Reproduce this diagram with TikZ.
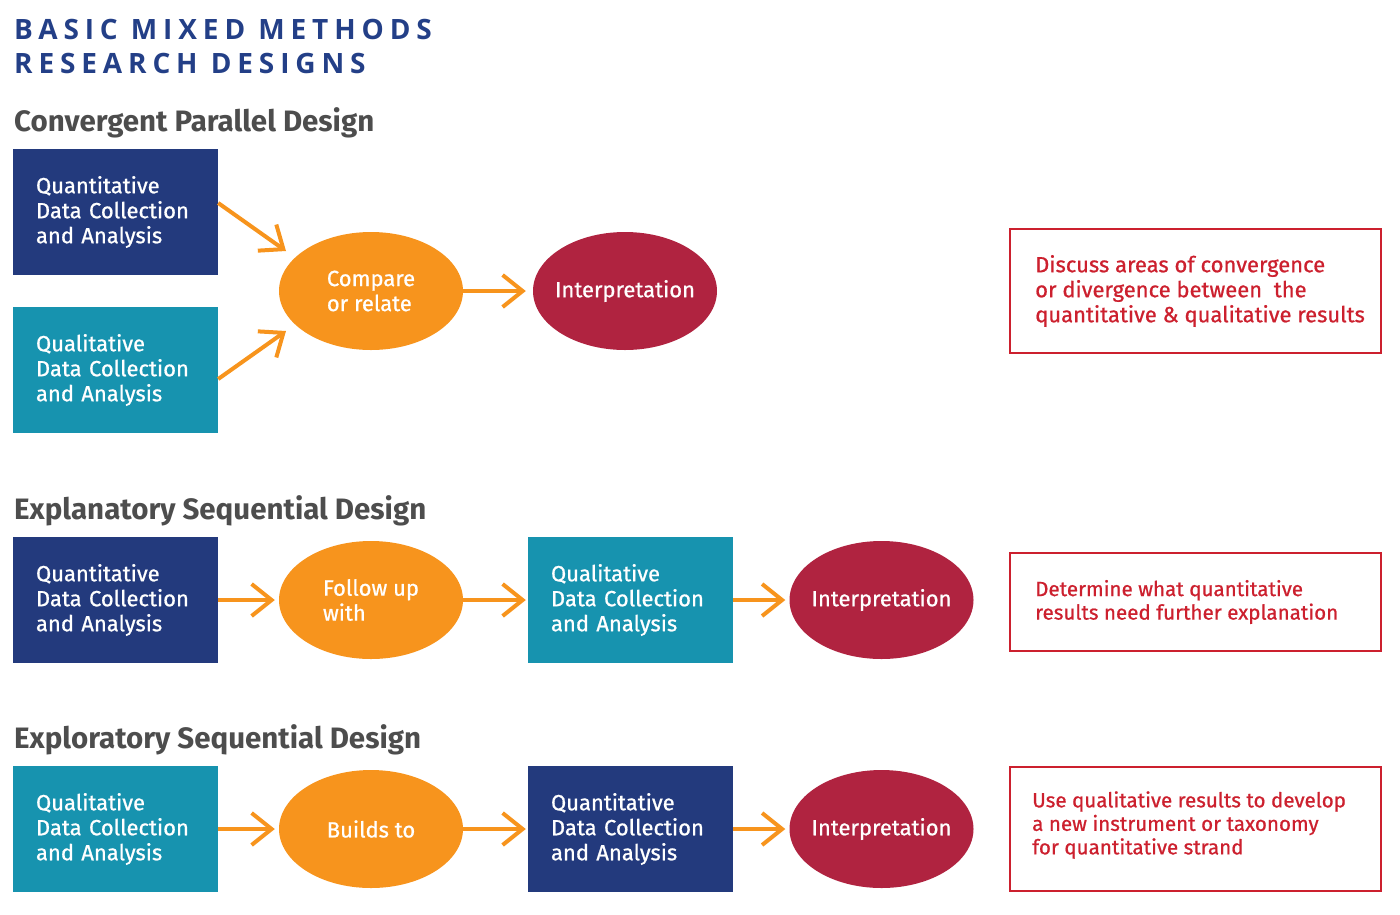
\documentclass[tikz,border=0pt]{standalone}
\usepackage{fontspec}
\setmainfont{Fira Sans}
\newfontfamily\titlefont[LetterSpace=21]{Open Sans}
\newfontfamily\medfont[FakeBold=0.8]{Fira Sans}
\usetikzlibrary{arrows.meta,shapes.geometric}
\definecolor{qblue}{RGB}{35,58,125}
\definecolor{qteal}{RGB}{23,147,175}
\definecolor{qorange}{RGB}{247,148,29}
\definecolor{qcrimson}{RGB}{176,35,64}
\definecolor{qred}{RGB}{204,32,46}
\definecolor{qtitle}{RGB}{35,63,135}
\definecolor{qgray}{RGB}{77,77,77}
\begin{document}
\begin{tikzpicture}[x=1pt,y=-1pt,
  box/.style={rectangle, minimum width=205pt, minimum height=126pt, text width=159pt, inner xsep=23pt, inner ysep=0pt, align=left, text=white, font=\medfont\fontsize{22}{25}\selectfont},
  quant/.style={box, fill=qblue},
  qual/.style={box, fill=qteal},
  oval/.style={ellipse, minimum width=184pt, minimum height=118pt, inner sep=0pt, align=left, text=white, font=\medfont\fontsize{22}{25}\selectfont},
  link/.style={oval, fill=qorange},
  interp/.style={oval, fill=qcrimson},
  note/.style={rectangle, draw=qred, line width=2pt, minimum width=371pt, inner sep=0pt},
  notetext/.style={anchor=west, inner sep=0pt, align=left, text=qred, font=\medfont\fontsize{22}{25}\selectfont},
  notesmall/.style={notetext, font=\medfont\fontsize{20.6}{23.5}\selectfont},
  arr/.style={draw=qorange, line width=4pt, -{Straight Barb[length=20pt,width=32pt]}},
  heading/.style={anchor=base west, inner sep=0pt, text=qgray, font=\fontsize{29.5}{32}\selectfont\bfseries},
  titletext/.style={anchor=base west, inner sep=0pt, text=qtitle, font=\titlefont\fontsize{28}{34}\selectfont\bfseries}
]
\useasboundingbox (0,0) rectangle (1400,914);
% titles
\node[titletext] (title1) at (14,39) {BASIC MIXED METHODS};
\node[titletext] (title2) at (14,73) {RESEARCH DESIGNS};
\node[heading] (h1) at (14,131) {Convergent Parallel Design};
\node[heading] (h2) at (14,519) {Explanatory Sequential Design};
\node[heading] (h3) at (14,748) {Exploratory Sequential Design};
% row 1
\node[quant] (a1) at (115.5,212) {Quantitative\\Data Collection\\and Analysis};
\node[qual] (a2) at (115.5,370) {Qualitative\\Data Collection\\and Analysis};
\node[link] (cmp) at (371,291) {Compare\\or relate};
\node[interp] (i1) at (625,291) {\makebox[0pt][c]{Interpretation}};
\node[note, minimum height=124pt] (r1) at (1195.5,291) {};
\node[notetext] (n1) at ([xshift=26pt]r1.west) {Discuss areas of convergence\\or divergence between\ \ the\\quantitative \& qualitative results};
\coordinate (t1) at (286,251);
\coordinate (t2) at (286,331);
\draw[arr] ([yshift=9pt]a1.east) -- (t1);
\draw[arr] ([yshift=-9pt]a2.east) -- (t2);
\draw[arr, shorten >=7pt] (cmp.east) -- (i1.west);
% row 2
\node[quant] (b1) at (115.5,600) {Quantitative\\Data Collection\\and Analysis};
\node[link] (fol) at (371,600) {Follow up\\with};
\node[qual] (b2) at (630.5,600) {Qualitative\\Data Collection\\and Analysis};
\node[interp] (i2) at (881.5,600) {\makebox[0pt][c]{Interpretation}};
\node[note, minimum height=98pt] (r2) at (1195.5,602) {};
\node[notesmall] (n2) at ([xshift=26pt]r2.west) {Determine what quantitative\\results need further explanation};
\draw[arr, shorten >=4pt] (b1.east) -- (fol.west);
\draw[arr, shorten >=2pt] (fol.east) -- (b2.west);
\draw[arr, shorten >=4pt] (b2.east) -- (i2.west);
% row 3
\node[qual] (c1) at (115.5,829) {Qualitative\\Data Collection\\and Analysis};
\node[link] (bld) at (371,829) {Builds to};
\node[quant] (c2) at (630.5,829) {Quantitative\\Data Collection\\and Analysis};
\node[interp] (i3) at (881.5,829) {\makebox[0pt][c]{Interpretation}};
\node[note, minimum height=124pt] (r3) at (1195.5,829) {};
\node[notesmall] (n3) at ([xshift=23pt,yshift=4pt]r3.west) {Use qualitative results to develop\\a new instrument or taxonomy\\for quantitative strand};
\draw[arr, shorten >=4pt] (c1.east) -- (bld.west);
\draw[arr, shorten >=2pt] (bld.east) -- (c2.west);
\draw[arr, shorten >=4pt] (c2.east) -- (i3.west);
\end{tikzpicture}
\end{document}
